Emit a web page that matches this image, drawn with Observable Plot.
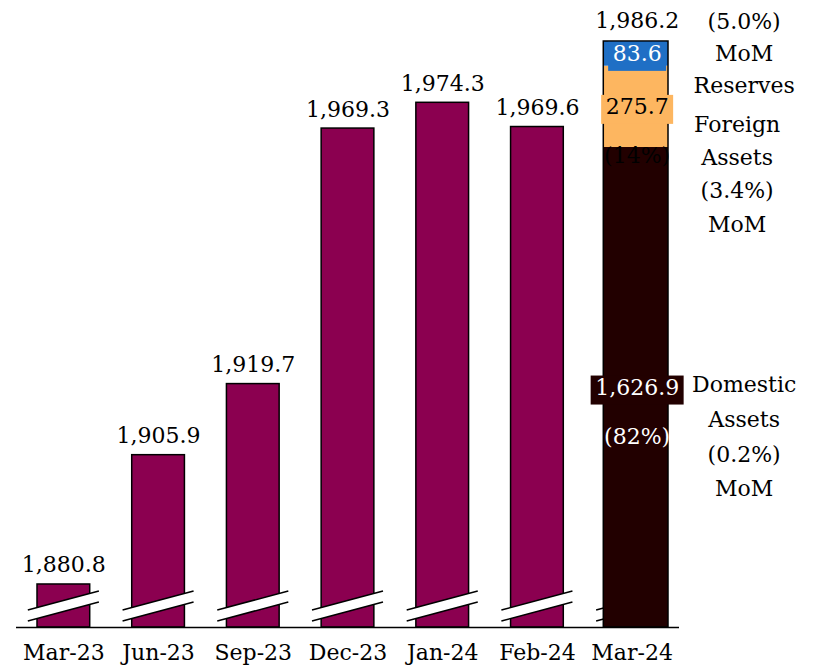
<!DOCTYPE html>
<html>
<head>
<meta charset="utf-8">
<script src="https://cdn.jsdelivr.net/npm/d3@7"></script>
<script src="https://cdn.jsdelivr.net/npm/@observablehq/plot@0.6"></script>
<style>
  html, body { margin: 0; padding: 0; background: #fff; }
  svg { display: block; }
</style>
</head>
<body>
<div id="chart"></div>
<script>
// ---- data ----
const categories = ["Mar-23", "Jun-23", "Sep-23", "Dec-23", "Jan-24", "Feb-24", "Mar-24"];
const totals = [1880.8, 1905.9, 1919.7, 1969.3, 1974.3, 1969.6, 1986.2];
const segNames = ["Domestic\nAssets", "Foreign\nAssets", "Reserves"];
const segValues = [1626.9, 275.7, 83.6];
const segShares = ["(82%)", "(14%)", ""];
const segMoM = ["(0.2%)", "(3.4%)", "(5.0%)"];
const axisFloor = 1872.45; // broken axis: bars start at this value

// ---- styles ----
const barColor = "#8B0050";
const segColors = ["#220000", "#FDB660", "#1F6FC5"];
const segTextColors = ["white", "black", "white"];
const FONT = "DejaVu Serif";
const FS = 22;

const fmt = d3.format(",.1f");
const last = categories.length - 1;
const topVal = totals[last];

const bars = categories.slice(0, last).map((c, i) => ({cat: c, x1: i, x2: i + 1, total: totals[i]}));

// stacked Mar-24 bar drawn proportionally over the full bar height
const prop = t => axisFloor + (t / topVal) * (topVal - axisFloor);
let cum = 0;
const segs = segValues.map((v, k) => {
  const a = cum; cum += v;
  return {k, value: v, y1: prop(a), y2: prop(cum), mid: prop(a + v / 2),
          share: segShares[k], name: segNames[k], mom: segMoM[k]};
});
const lastBar = [{x1: last, x2: last + 1, y1: axisFloor, y2: topVal}];

// broken-axis marks drawn through the plot's own scales
function breakMarks(index, scales) {
  const g = d3.create("svg:g");
  const y0 = scales.y(axisFloor);
  const step = scales.x(1) - scales.x(0);
  categories.forEach((c, i) => {
    const cx = scales.x(i + 0.5);
    const hw = 0.375 * step, yc = y0 - 21, s = 9.5, gap = 5.5;
    g.append("polygon")
      .attr("points", [[cx - hw, yc + s - gap], [cx + hw, yc - s - gap], [cx + hw, yc - s + gap], [cx - hw, yc + s + gap]].join(" "))
      .attr("fill", "white");
    [-gap, gap].forEach(o => {
      g.append("line")
        .attr("x1", cx - hw).attr("y1", yc + s + o)
        .attr("x2", cx + hw).attr("y2", yc - s + o)
        .attr("stroke", "black").attr("stroke-width", 1.5);
    });
  });
  return g.node();
}

const chart = Plot.plot({
  width: 825,
  height: 666,
  marginLeft: 16,
  marginRight: 146,
  marginTop: 41,
  marginBottom: 39,
  style: {fontFamily: FONT, fontSize: FS + "px", background: "white", color: "black"},
  x: {type: "linear", domain: [0, categories.length], axis: null},
  y: {domain: [axisFloor, topVal], axis: null},
  marks: [
    Plot.rectY(bars, {x1: "x1", x2: "x2", y1: axisFloor, y2: "total", fill: barColor,
      stroke: "black", strokeWidth: 1.5, insetLeft: 21, insetRight: 21}),
    breakMarks,
    Plot.rectY(segs, {x1: last, x2: last + 1, y1: "y1", y2: "y2", fill: (d) => segColors[d.k],
      insetLeft: 19, insetRight: 11}),
    Plot.rectY(lastBar, {x1: "x1", x2: "x2", y1: "y1", y2: "y2", fill: "none",
      stroke: "black", strokeWidth: 1.5, insetLeft: 19, insetRight: 11}),
    Plot.ruleY([axisFloor], {stroke: "black", strokeWidth: 1.5}),
    // value labels
    Plot.text(bars, {x: d => d.x1 + 0.5, y: "total", text: d => fmt(d.total), dy: -12,
      lineAnchor: "bottom", fontSize: FS, fill: "black"}),
    Plot.text([topVal], {x: last + 0.5, y: d => d, text: d => fmt(d), dx: 5, dy: -14,
      lineAnchor: "bottom", fontSize: FS, fill: "black"}),
    // category labels
    Plot.text(categories, {x: (d, i) => i + 0.5, y: axisFloor, text: d => d, dy: 32,
      lineAnchor: "bottom", fontSize: FS, fill: "black"}),
    // segment values inside the Mar-24 bar
    Plot.text(segs, {x: last + 0.5, y: "mid", text: d => fmt(d.value), dx: 5,
      lineAnchor: "middle", fontSize: FS, fill: d => segTextColors[d.k]}),
    Plot.text(segs.filter(d => d.share), {x: last + 0.5, y: "mid", text: "share", dx: 5, dy: 49,
      lineAnchor: "middle", fontSize: FS, fill: d => segTextColors[d.k]}),
    // right annotations
    Plot.text([segs[2]], {x: last + 0.5, y: "mid", text: d => d.mom + "\nMoM\n" + d.name, dx: 112, dy: -3,
      lineAnchor: "middle", lineHeight: 1.44, fontSize: FS, fill: "black"}),
    Plot.text([segs[1]], {x: last + 0.5, y: "mid", text: d => d.name + "\n" + d.mom + "\nMoM", dx: 105, dy: 1,
      lineAnchor: "top", lineHeight: 1.52, fontSize: FS, fill: "black"}),
    Plot.text([segs[0]], {x: last + 0.5, y: "mid", text: d => d.name + "\n" + d.mom + "\nMoM", dx: 112, dy: -20,
      lineAnchor: "top", lineHeight: 1.58, fontSize: FS, fill: "black"})
  ]
});
document.getElementById("chart").appendChild(chart);

// label background boxes behind the segment values
const boxFill = {};
segs.forEach(d => { boxFill[fmt(d.value)] = segColors[d.k]; });
chart.querySelectorAll("text").forEach(t => {
  if (t.querySelector("tspan")) return;
  const c = boxFill[t.textContent];
  if (!c) return;
  const b = t.getBBox();
  const r = document.createElementNS("http://www.w3.org/2000/svg", "rect");
  r.setAttribute("x", b.x - 4.5);
  r.setAttribute("y", b.y + 1);
  r.setAttribute("width", b.width + 9);
  r.setAttribute("height", b.height + 4);
  r.setAttribute("fill", c);
  r.setAttribute("stroke", "none");
  const tr = t.getAttribute("transform");
  if (tr) r.setAttribute("transform", tr);
  t.parentNode.insertBefore(r, t);
});
</script>
</body>
</html>
